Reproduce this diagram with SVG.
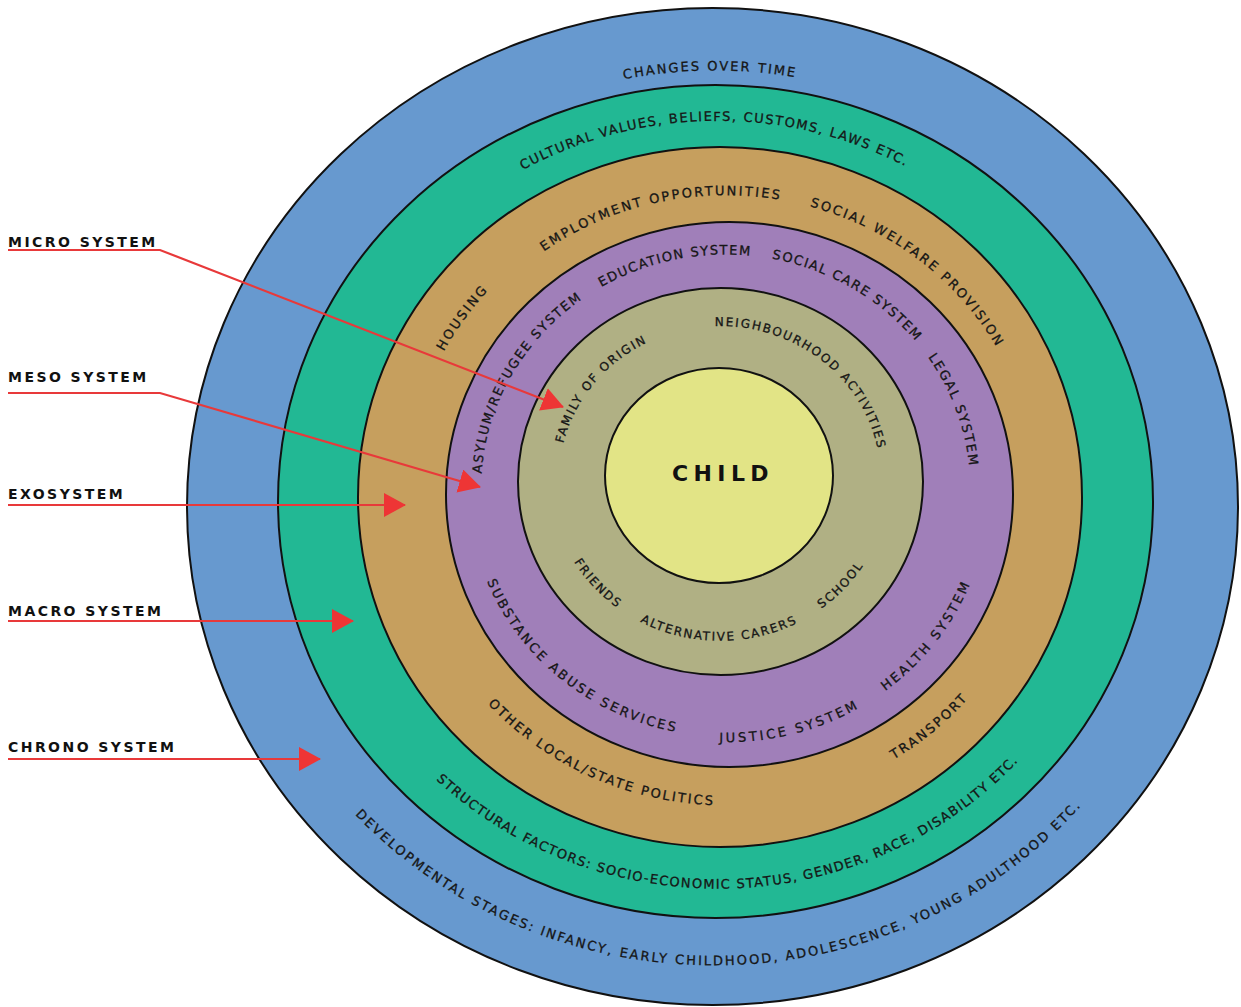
<svg xmlns="http://www.w3.org/2000/svg" width="1241" height="1007" viewBox="0 0 1241 1007">
<style>
.ring{stroke:#111;stroke-width:2}
.t{font-family:"DejaVu Sans","Verdana",sans-serif;font-size:13px;letter-spacing:2.2px;fill:#161616;stroke:#161616;stroke-width:0.3}
.ts{font-family:"DejaVu Sans","Verdana",sans-serif;font-size:12px;letter-spacing:1.8px;fill:#161616;stroke:#161616;stroke-width:0.3}
.lab{font-family:"DejaVu Sans","Verdana",sans-serif;font-size:14px;font-weight:bold;letter-spacing:2.45px;fill:#111}
.con{fill:none;stroke:#E8393A;stroke-width:2.2;marker-end:url(#ah)}
</style>
<defs>
<marker id="ah" markerUnits="userSpaceOnUse" markerWidth="22" markerHeight="24" viewBox="0 0 22 24" refX="21" refY="12" orient="auto">
<path d="M0,0 L22,12 L0,24 z" fill="#EE3535"/>
</marker>
<path id="p1" d="M714.75,935.05 A454.8,432.3 0 0,1 714.75,70.45 A454.8,432.3 0 0,1 714.75,935.05"/>
<path id="p2" d="M714.03,42.55 A485.3,461.4 0 0,0 714.03,965.35 A485.3,461.4 0 0,0 714.03,42.55"/>
<path id="p3" d="M717.75,877.8 A395.05,378.55 0 0,1 717.75,120.7 A395.05,378.55 0 0,1 717.75,877.8"/>
<path id="p4" d="M717.66,110.06 A405.96,389.28 0 0,0 717.66,888.62 A405.96,389.28 0 0,0 717.66,110.06"/>
<path id="tanCW" d="M725.51,795.9 A311.77,300.35 0 0,1 725.51,195.2 A311.77,300.35 0 0,1 725.51,795.9"/>
<path id="tanCWh" d="M725.51,802.9 A318.77,307.35 0 0,1 725.51,188.2 A318.77,307.35 0 0,1 725.51,802.9"/>
<path id="tanCCW" d="M725.51,185.8 A321.17,309.75 0 0,0 725.51,805.3 A321.17,309.75 0 0,0 725.51,185.8"/>
<path id="purCW" d="M725.72,723.66 A244.78,234.62 0 0,1 725.72,254.42 A244.78,234.62 0 0,1 725.72,723.66"/>
<path id="purCCW1" d="M726.08,242.38 A257.42,247.18 0 0,0 726.08,736.74 A257.42,247.18 0 0,0 726.08,242.38"/>
<path id="purCCW2" d="M726.62,238.42 A262.28,251.92 0 0,0 726.62,742.26 A262.28,251.92 0 0,0 726.62,238.42"/>
<path id="oliCW" d="M719.87,631.96 A160.93,152.98 0 0,1 719.87,326 A160.93,152.98 0 0,1 719.87,631.96"/>
<path id="oliCCW" d="M719.87,317.2 A169.73,161.78 0 0,0 719.87,640.76 A169.73,161.78 0 0,0 719.87,317.2"/>
</defs>
<rect width="1241" height="1007" fill="#fff"/>
<g id="chrono-system"><ellipse class="ring" cx="712.5" cy="506.5" rx="525.5" ry="498.5" fill="#6799CF"/></g>
<g id="macro-system"><ellipse class="ring" cx="715.5" cy="501.5" rx="437.5" ry="416.5" fill="#22B894"/></g>
<g id="exo-system"><ellipse class="ring" cx="720" cy="497" rx="362" ry="350" fill="#C69F5E"/></g>
<g id="meso-system"><ellipse class="ring" cx="729.5" cy="494.5" rx="283.5" ry="272.5" fill="#A07FB9"/></g>
<g id="micro-system"><ellipse class="ring" cx="720.5" cy="481.5" rx="202.5" ry="193.5" fill="#B0B084"/></g>
<g id="child"><ellipse class="ring" cx="719" cy="475.5" rx="114" ry="107.5" fill="#E2E486"/>
<text x="672" y="481" style="font-family:'DejaVu Sans',Verdana,sans-serif;font-size:22px;font-weight:bold;letter-spacing:5.4px;fill:#111">CHILD</text></g>
<g id="ring-texts">
<text class="t" style="letter-spacing:2px"><textPath href="#p1" startOffset="49.83%" text-anchor="middle">CHANGES OVER TIME</textPath></text>
<text class="t" style="letter-spacing:2.1px"><textPath href="#p2" startOffset="50.22%" text-anchor="middle">DEVELOPMENTAL STAGES: INFANCY, EARLY CHILDHOOD, ADOLESCENCE, YOUNG ADULTHOOD ETC.</textPath></text>
<text class="t" style="letter-spacing:1.55px"><textPath href="#p3" startOffset="49.85%" text-anchor="middle">CULTURAL VALUES, BELIEFS, CUSTOMS, LAWS ETC.</textPath></text>
<text class="t" style="letter-spacing:1.35px"><textPath href="#p4" startOffset="50.55%" text-anchor="middle">STRUCTURAL FACTORS: SOCIO-ECONOMIC STATUS, GENDER, RACE, DISABILITY ETC.</textPath></text>
<text class="t"><textPath href="#tanCW" startOffset="46.44%" text-anchor="middle">EMPLOYMENT OPPORTUNITIES</textPath></text>
<text class="t"><textPath href="#tanCW" startOffset="60.7%" text-anchor="middle">SOCIAL WELFARE PROVISION</textPath></text>
<text class="t"><textPath href="#tanCWh" startOffset="34.6%" text-anchor="middle">HOUSING</textPath></text>
<text class="t"><textPath href="#tanCCW" startOffset="43.03%" text-anchor="middle">OTHER LOCAL/STATE POLITICS</textPath></text>
<text class="t"><textPath href="#tanCCW" startOffset="61.36%" text-anchor="middle">TRANSPORT</textPath></text>
<text class="t" style="letter-spacing:1.45px"><textPath href="#purCW" startOffset="46.53%" text-anchor="middle">EDUCATION SYSTEM</textPath></text>
<text class="t" style="letter-spacing:1.5px"><textPath href="#purCW" startOffset="58.73%" text-anchor="middle">SOCIAL CARE SYSTEM</textPath></text>
<text class="t" style="letter-spacing:1.8px"><textPath href="#purCW" startOffset="69.6%" text-anchor="middle">LEGAL SYSTEM</textPath></text>
<text class="t" style="letter-spacing:1.7px"><textPath href="#purCW" startOffset="32.97%" text-anchor="middle">ASYLUM/REFUGEE SYSTEM</textPath></text>
<text class="t" style="letter-spacing:2.5px"><textPath href="#purCCW1" startOffset="38.92%" text-anchor="middle">SUBSTANCE ABUSE SERVICES</textPath></text>
<text class="t" style="letter-spacing:2.9px"><textPath href="#purCCW2" startOffset="54.1%" text-anchor="middle">JUSTICE SYSTEM</textPath></text>
<text class="t" style="letter-spacing:2.6px"><textPath href="#purCCW2" startOffset="64.82%" text-anchor="middle">HEALTH SYSTEM</textPath></text>
<text class="ts"><textPath href="#oliCW" startOffset="35.55%" text-anchor="middle">FAMILY OF ORIGIN</textPath></text>
<text class="ts"><textPath href="#oliCW" startOffset="60.76%" text-anchor="middle">NEIGHBOURHOOD ACTIVITIES</textPath></text>
<text class="ts"><textPath href="#oliCCW" startOffset="36.5%" text-anchor="middle">FRIENDS</textPath></text>
<text class="ts"><textPath href="#oliCCW" startOffset="49.92%" text-anchor="middle">ALTERNATIVE CARERS</textPath></text>
<text class="ts"><textPath href="#oliCCW" startOffset="63.33%" text-anchor="middle">SCHOOL</textPath></text>
</g>
<g id="labels">
<text class="lab" x="8" y="247">MICRO SYSTEM</text>
<text class="lab" x="8" y="382">MESO SYSTEM</text>
<text class="lab" x="8" y="499">EXOSYSTEM</text>
<text class="lab" x="8" y="616">MACRO SYSTEM</text>
<text class="lab" x="8" y="752">CHRONO SYSTEM</text>
</g>
<g id="connectors">
<polyline class="con" points="8,250 160,250 563,407"/>
<polyline class="con" points="8,393 160,393 480,487"/>
<polyline class="con" points="8,505 405,505"/>
<polyline class="con" points="8,621 353,621"/>
<polyline class="con" points="8,759 320,759"/>
</g>
</svg>
